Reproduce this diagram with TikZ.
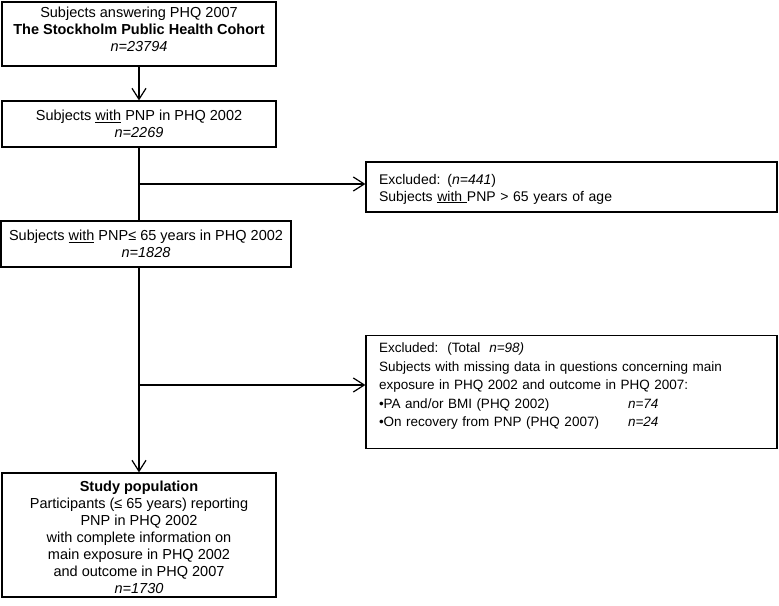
\documentclass[tikz,border=0pt]{standalone}
\usepackage{fontspec}
\setmainfont{Liberation Sans}
\usetikzlibrary{arrows.meta}

\begin{document}
\begin{tikzpicture}[x=1pt,y=-1pt,line width=1.2pt,
	box/.style={draw,inner sep=0,font=\fontsize{14.5}{17}\selectfont},
	cbox/.style={box,align=center},
	lbox/.style={box,align=left,inner xsep=13pt},
	arr/.style={-{Straight Barb[length=11pt,width=14pt,line width=1.2pt]}}]
	\useasboundingbox (0,0) rectangle (779,605);
	\node[cbox,minimum width=274pt,minimum height=64pt] (b1) at (139,34) {Subjects answering PHQ 2007\\\textbf{The Stockholm Public Health Cohort}\\\textit{n=23794}\rule[-9pt]{0pt}{0pt}};
	\node[cbox,minimum width=274pt,minimum height=46pt] (b2) at (139,124) {Subjects \underline{with} PNP in PHQ 2002\\\textit{n=2269}};
	\node[cbox,minimum width=290pt,minimum height=46pt] (b3) at (146,244) {Subjects \underline{with} PNP≤ 65 years in PHQ 2002\\\textit{n=1828}};
	\node[cbox,minimum width=274pt,minimum height=124pt] (b4) at (139,535) {\rule{0pt}{16pt}\textbf{Study population}\\Participants (≤ 65 years) reporting\\PNP in PHQ 2002\\with complete information on\\main exposure in PHQ 2002\\and outcome in PHQ 2007\\\textit{n=1730}};
	\node[lbox,font=\fontsize{14}{17}\selectfont,text width=385pt,minimum height=50pt] (e1) at (571.5,187) {\rule{0pt}{14pt}Excluded: (\textit{n=441})\\Subjects \underline{with\ }PNP > 65 years of age};
	\node[lbox,font=\fontsize{13.5}{18.5}\selectfont,text width=385pt,inner ysep=8pt] (e2) at (571.5,392) {Excluded:\ \ (Total \ \textit{n=98)}\\Subjects with missing data in questions concerning main\\exposure in PHQ 2002 and outcome in PHQ 2007:\\\makebox[249pt][l]{•PA and/or BMI (PHQ 2002)}\textit{n=74}\\\makebox[249pt][l]{•On recovery from PNP (PHQ 2007)}\textit{n=24}\rule[-14pt]{0pt}{0pt}};
	\coordinate (j1) at (139,184);
	\coordinate (j2) at (139,385);
	\draw[arr] (b1) -- (b2);
	\draw (b2) -- (b2 |- b3.north);
	\draw[arr] (j1) -- (j1 -| e1.west);
	\draw[arr] (b3.south -| b4) -- (b4);
	\draw[arr] (j2) -- (j2 -| e2.west);
\end{tikzpicture}
\end{document}
